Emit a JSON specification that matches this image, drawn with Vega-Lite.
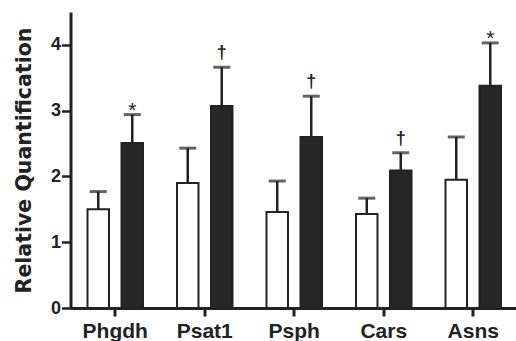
{
  "$schema": "https://vega.github.io/schema/vega-lite/v6.json",
  "autosize": {"type": "none"},
  "padding": {"left": 70.5, "top": 12, "right": 0, "bottom": 33},
  "width": 447.5,
  "height": 296,
  "background": "white",
  "config": {
    "view": {"stroke": null},
    "font": "Liberation Sans"
  },
  "data": {
    "values": [
      {"gene": "Phgdh", "group": "Control", "value": 1.50, "err": 1.77, "sig": ""},
      {"gene": "Phgdh", "group": "Treated", "value": 2.51, "err": 2.94, "sig": "*"},
      {"gene": "Psat1", "group": "Control", "value": 1.90, "err": 2.43, "sig": ""},
      {"gene": "Psat1", "group": "Treated", "value": 3.07, "err": 3.66, "sig": "†"},
      {"gene": "Psph", "group": "Control", "value": 1.46, "err": 1.93, "sig": ""},
      {"gene": "Psph", "group": "Treated", "value": 2.60, "err": 3.22, "sig": "†"},
      {"gene": "Cars", "group": "Control", "value": 1.43, "err": 1.67, "sig": ""},
      {"gene": "Cars", "group": "Treated", "value": 2.09, "err": 2.36, "sig": "†"},
      {"gene": "Asns", "group": "Control", "value": 1.95, "err": 2.60, "sig": ""},
      {"gene": "Asns", "group": "Treated", "value": 3.38, "err": 4.03, "sig": "*"}
    ]
  },
  "encoding": {
    "x": {
      "field": "gene", "type": "nominal", "sort": null,
      "scale": {"paddingInner": 0, "paddingOuter": 0},
      "axis": {
        "title": null, "labelAngle": 0, "labelFont": "Liberation Sans", "labelFontWeight": "bold",
        "labelFontSize": 21, "labelColor": "#222", "labelPadding": 4,
        "domainColor": "#222", "domainWidth": 3, "tickColor": "#222", "tickWidth": 3, "tickSize": 8,
        "bandPosition": 0.5, "grid": false
      }
    },
    "xOffset": {
      "field": "group", "type": "nominal",
      "scale": {"paddingInner": 0.368, "paddingOuter": 0.5}
    }
  },
  "layer": [
    {
      "mark": {"type": "bar", "stroke": "#222", "strokeWidth": 2},
      "encoding": {
        "y": {
          "field": "value", "type": "quantitative",
          "scale": {"domain": [0, 4.5], "nice": false},
          "axis": {
            "title": "Relative Quantification", "values": [0, 1, 2, 3, 4], "format": "d",
            "titleFont": "DejaVu Sans", "titleFontSize": 20.5, "titleFontWeight": "bold", "titleColor": "#222",
            "titlePadding": 16,
            "labelFont": "Liberation Sans", "labelFontSize": 18, "labelFontWeight": "bold", "labelColor": "#222",
            "labelPadding": 1,
            "domainColor": "#222", "domainWidth": 3, "tickColor": "#222", "tickWidth": 2.5, "tickSize": 9,
            "grid": false
          }
        },
        "fill": {
          "field": "group", "type": "nominal",
          "scale": {"domain": ["Control", "Treated"], "range": ["#ffffff", "#262626"]},
          "legend": null
        }
      }
    },
    {
      "mark": {"type": "rule", "color": "#222", "strokeWidth": 2.5},
      "encoding": {
        "y": {"field": "value", "type": "quantitative"},
        "y2": {"field": "err"}
      }
    },
    {
      "mark": {"type": "tick", "color": "#222", "thickness": 3, "size": 17, "orient": "horizontal"},
      "encoding": {
        "y": {"field": "err", "type": "quantitative"}
      }
    },
    {
      "transform": [{"filter": "datum.sig == '*'"}],
      "mark": {"type": "text", "fontSize": 21, "color": "#222", "baseline": "alphabetic", "dy": 2},
      "encoding": {
        "y": {"field": "err", "type": "quantitative"},
        "text": {"field": "sig"}
      }
    },
    {
      "transform": [{"filter": "datum.sig == '†'"}],
      "mark": {"type": "text", "fontSize": 18, "fontWeight": "bold", "color": "#222", "baseline": "alphabetic", "dy": -9},
      "encoding": {
        "y": {"field": "err", "type": "quantitative"},
        "text": {"field": "sig"}
      }
    }
  ]
}
